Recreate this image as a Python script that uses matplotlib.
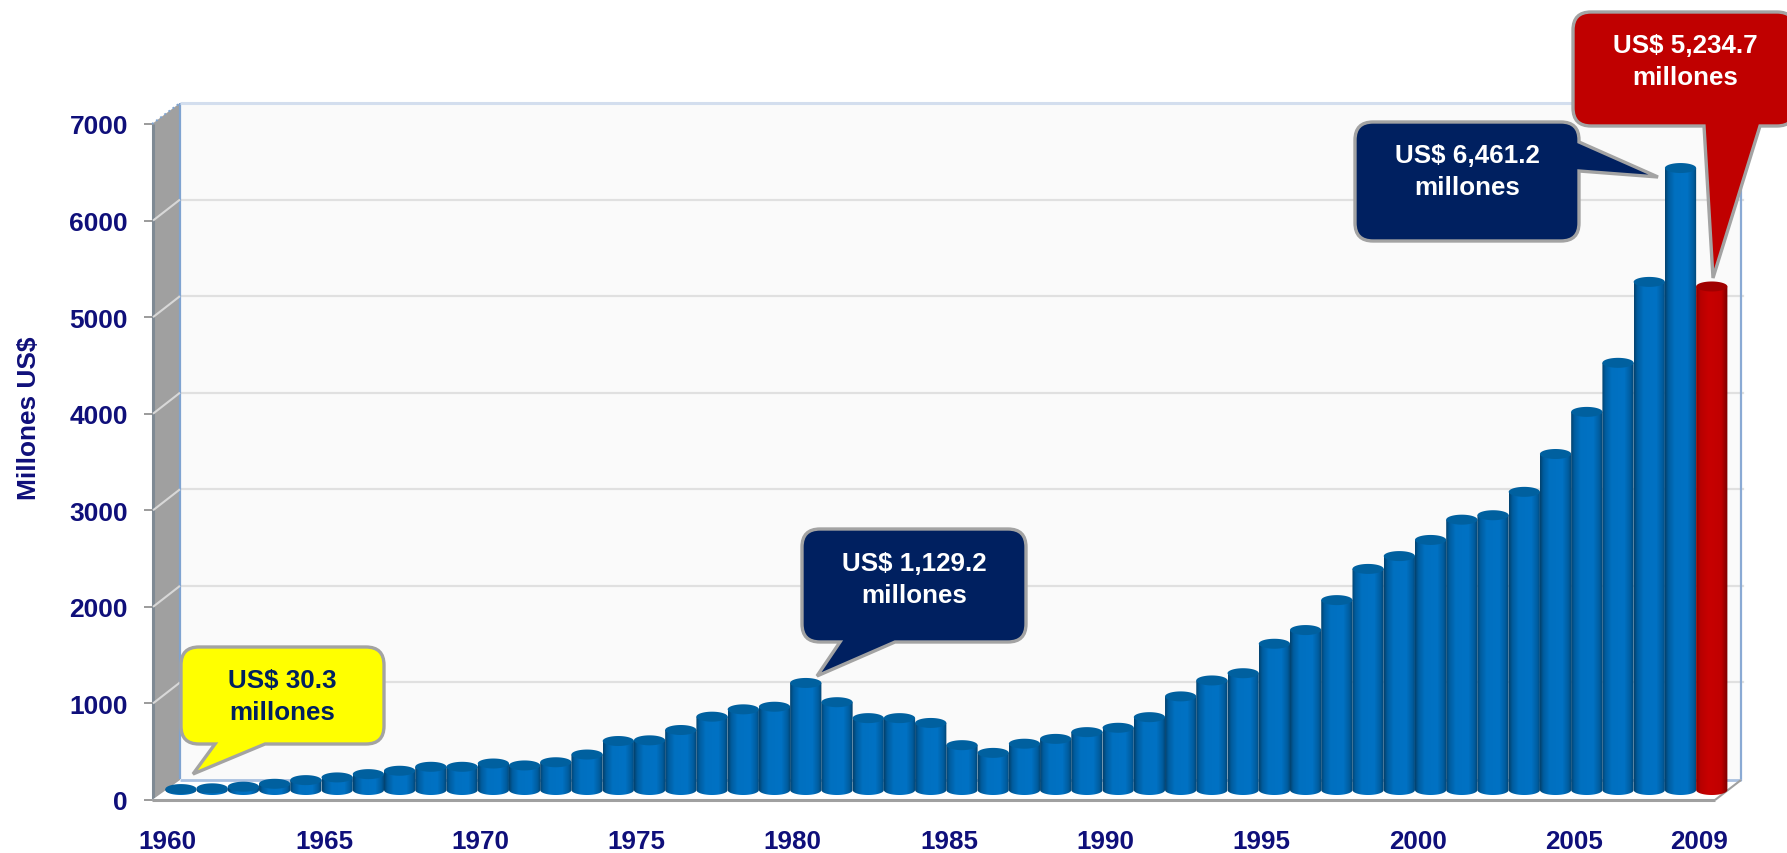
#!/usr/bin/env python3
"""Ingresos por remesas 1960-2009, columnas cilindricas con efecto 3D."""

import numpy as np
import matplotlib
matplotlib.use("Agg")
import matplotlib.pyplot as plt
from matplotlib.colors import LinearSegmentedColormap
from matplotlib.patches import PathPatch, Polygon
from matplotlib.path import Path
from matplotlib.transforms import Affine2D

plt.rcParams['font.family'] = ['Liberation Sans', 'DejaVu Sans']

W, H = 1787, 854

YEARS = list(range(1960, 2010))
VALUES = [
    30.3, 38, 55, 85, 123, 151, 185, 220, 261, 261,
    295, 275, 308, 388, 528, 535, 642, 780, 856, 883,
    1129.2, 930, 765, 765, 715, 485, 405, 500, 550, 620,
    665, 775, 990, 1155, 1230, 1535, 1677, 1987, 2310, 2443,
    2610, 2820, 2866, 3108, 3500, 3936, 4444, 5282, 6461.2, 5234.7,
]
HIGHLIGHT_YEAR = 2009
X_TICKS = [1960, 1965, 1970, 1975, 1980, 1985, 1990, 1995, 2000, 2005, 2009]
Y_TICKS = [0, 1000, 2000, 3000, 4000, 5000, 6000, 7000]
Y_LABEL = "Millones US$"

NAVY = "#0f0f7a"
LABEL_NAVY = "#002060"
EDGE_GRAY = "#a3a3a3"

fig = plt.figure(figsize=(W / 100, H / 100), dpi=100, facecolor="white")
# axes = plano frontal del grafico
ax = fig.add_axes([152 / W, 1 - 801 / H, (1715 - 152) / W, (801 - 125) / H])
ax.patch.set_visible(False)
for s in ax.spines.values():
    s.set_visible(False)
ax.set_xlim(1959.49, 2009.52)
ax.set_ylim(0, 7000)
ax.set_autoscale_on(False)

# pixeles de la imagen (origen arriba a la izquierda)
px = Affine2D().scale(1, -1).translate(0, H)


def shift(dx, dy):
    """Mueve transData dx, dy pixeles, para los planos de profundidad."""
    return ax.transData + Affine2D().translate(dx, dy)


def wall(points, fc, ec="none", lw=0, z=1):
    ax.add_patch(Polygon(points, closed=True, fc=fc, ec=ec, lw=lw,
                         transform=px, clip_on=False, zorder=z))


def px_line(xs, ys, color, lw, z=2, **kw):
    ax.plot(xs, ys, color=color, lw=lw, transform=px, clip_on=False, zorder=z,
            solid_capstyle="butt", **kw)


# paredes
wall([(180, 104), (1741, 104), (1741, 782), (180, 782)], "#fafafa")
wall([(152, 125), (180, 104), (180, 782), (152, 802)], "#a0a0a0")
px_line([153, 153], [125, 801], "#7f8a94", 2.2)
px_line([180, 180], [104, 780], "#7fa3d0", 1.6, z=3)
px_line([1741, 1741], [104, 782], "#8aaad4", 1.6, z=3)
px_line([180, 1741], [104, 104], "#d3deee", 2.2, z=3)
px_line([152, 180], [125, 104], "#7fa3d0", 1.4, z=3, linestyle=":")
px_line([180, 1741], [781, 781], "#a9c0e0", 2.0, z=3)
wall([(152, 801), (180, 781), (1741, 781), (1715, 801)], "white", z=2)

# rejilla sobre el fondo y la pared izquierda
for tick in Y_TICKS[1:-1]:
    ax.plot(ax.get_xlim(), [tick, tick], color="#e0e0e0", lw=1.6,
            transform=shift(28, 21), clip_on=False, zorder=2)
    y = 801 - tick * 676 / 7000
    px_line([153, 180], [y, y - 21], "#d8d8d8", 1.5, z=3)

# cilindros
blue_cmap = LinearSegmentedColormap.from_list(
    "b", [(0, "#03426f"), (0.1, "#005c9e"), (0.3, "#0070c0"), (0.7, "#0072c4"), (0.9, "#005c9e"), (1, "#03426f")])
red_cmap = LinearSegmentedColormap.from_list(
    "r", [(0, "#8a0000"), (0.14, "#b80000"), (0.4, "#c80000"), (0.8, "#c00000"), (1, "#7a0000")])
gradient = np.linspace(0, 1, 64).reshape(1, -1)
bar_t = shift(13, 8)
semi = 5 / (676 / 7000)  # semieje de la elipse en unidades del eje y
base = 2 / (676 / 7000)

for i, (year, value) in enumerate(zip(YEARS, VALUES)):
    is_red = year == HIGHLIGHT_YEAR
    x0, x1, xc = year - 0.5, year + 0.5, year
    arc_t = np.linspace(np.pi, 2 * np.pi, 40)
    bx = xc + 0.5 * np.cos(arc_t)
    by = base + semi * np.sin(arc_t)
    verts = list(zip(bx, by)) + [(x1, value), (x0, value)]
    body = Path(verts + [verts[0]], closed=True)
    z = 10 + i
    clip = PathPatch(body, fc="none", ec="none", transform=bar_t, clip_on=False, zorder=z)
    ax.add_patch(clip)
    im = ax.imshow(gradient, cmap=red_cmap if is_red else blue_cmap, aspect="auto",
                   extent=[x0, x1, base - semi, value], transform=bar_t, zorder=z,
                   interpolation="bilinear")
    im.set_clip_box(fig.bbox)
    im.set_clip_path(clip)
    arc_t = np.linspace(0, 2 * np.pi, 60)
    ax.fill(xc + 0.5 * np.cos(arc_t), value + semi * np.sin(arc_t),
            color="#a00000" if is_red else "#00609f", lw=0,
            transform=bar_t, clip_on=False, zorder=z + 0.5)

ax.set_xlim(1959.49, 2009.52)
ax.set_ylim(0, 7000)

# ejes
px_line([152, 1715], [801, 801], "#a0a0a0", 2.2, z=5)
px_line([1715, 1741], [801, 781], "#a0a0a0", 1.5, z=5)
ax.set_xticks(X_TICKS)
ax.set_xticklabels([str(t) for t in X_TICKS])
ax.set_yticks(Y_TICKS)
ax.tick_params(axis="x", length=0, pad=21, labelsize=18.7, labelcolor=NAVY)
ax.tick_params(axis="y", length=5.8, width=1.2, color="#8a8a8a", pad=11.5,
               labelsize=19, labelcolor=NAVY)
for lab in ax.get_xticklabels() + ax.get_yticklabels():
    lab.set_fontweight("bold")
ax.set_ylabel(Y_LABEL, fontsize=18.9, fontweight="bold", color=NAVY)
ax.yaxis.set_label_coords((41 - 152) / (1715 - 152), (801 - 418) / 676)


def callout(x0, y0, x1, y1, tail, fc, label, tc, cx, cy, r=18):
    """Rectangulo redondeado con cola; tail son 3 puntos en el sentido de giro."""
    C3, L, M = Path.CURVE3, Path.LINETO, Path.MOVETO
    v = [(x0 + r, y0), (x1 - r, y0), (x1, y0), (x1, y0 + r)]
    c = [M, L, C3, C3]
    if tail[0][0] == x1:  # cola a la derecha
        v += tail
        c += [L] * 3
    v += [(x1, y1 - r), (x1, y1), (x1 - r, y1)]
    c += [L, C3, C3]
    if tail[0][1] == y1:  # cola abajo
        v += tail
        c += [L] * 3
    v += [(x0 + r, y1), (x0, y1), (x0, y1 - r), (x0, y0 + r), (x0, y0), (x0 + r, y0), (x0 + r, y0)]
    c += [L, C3, C3, L, C3, C3, Path.CLOSEPOLY]
    ax.add_patch(PathPatch(Path(v, c), fc=fc, ec=EDGE_GRAY, lw=2.4, joinstyle="miter",
                           transform=px, clip_on=False, zorder=100))
    ax.text(cx, cy, label, color=tc, fontsize=18.7, fontweight="bold", ha="center",
            va="center", linespacing=1.4, transform=px, zorder=101)


callout(181, 648, 384, 745, [(265, 745), (193, 775), (215, 745)], "#ffff00",
        "US$ 30.3\nmillones", LABEL_NAVY, 282, 697)
callout(802, 530, 1026, 643, [(895, 643), (817, 677), (840, 643)], "#002060",
        "US$ 1,129.2\nmillones", "white", 914, 580)
callout(1355, 123, 1579, 242, [(1579, 143), (1658, 178), (1579, 172)], "#002060",
        "US$ 6,461.2\nmillones", "white", 1467, 172)
callout(1573, 13, 1795, 127, [(1760, 127), (1713, 279), (1704, 127)], "#c00000",
        "US$ 5,234.7\nmillones", "white", 1685, 62)

fig.savefig("out.png", dpi=100)
